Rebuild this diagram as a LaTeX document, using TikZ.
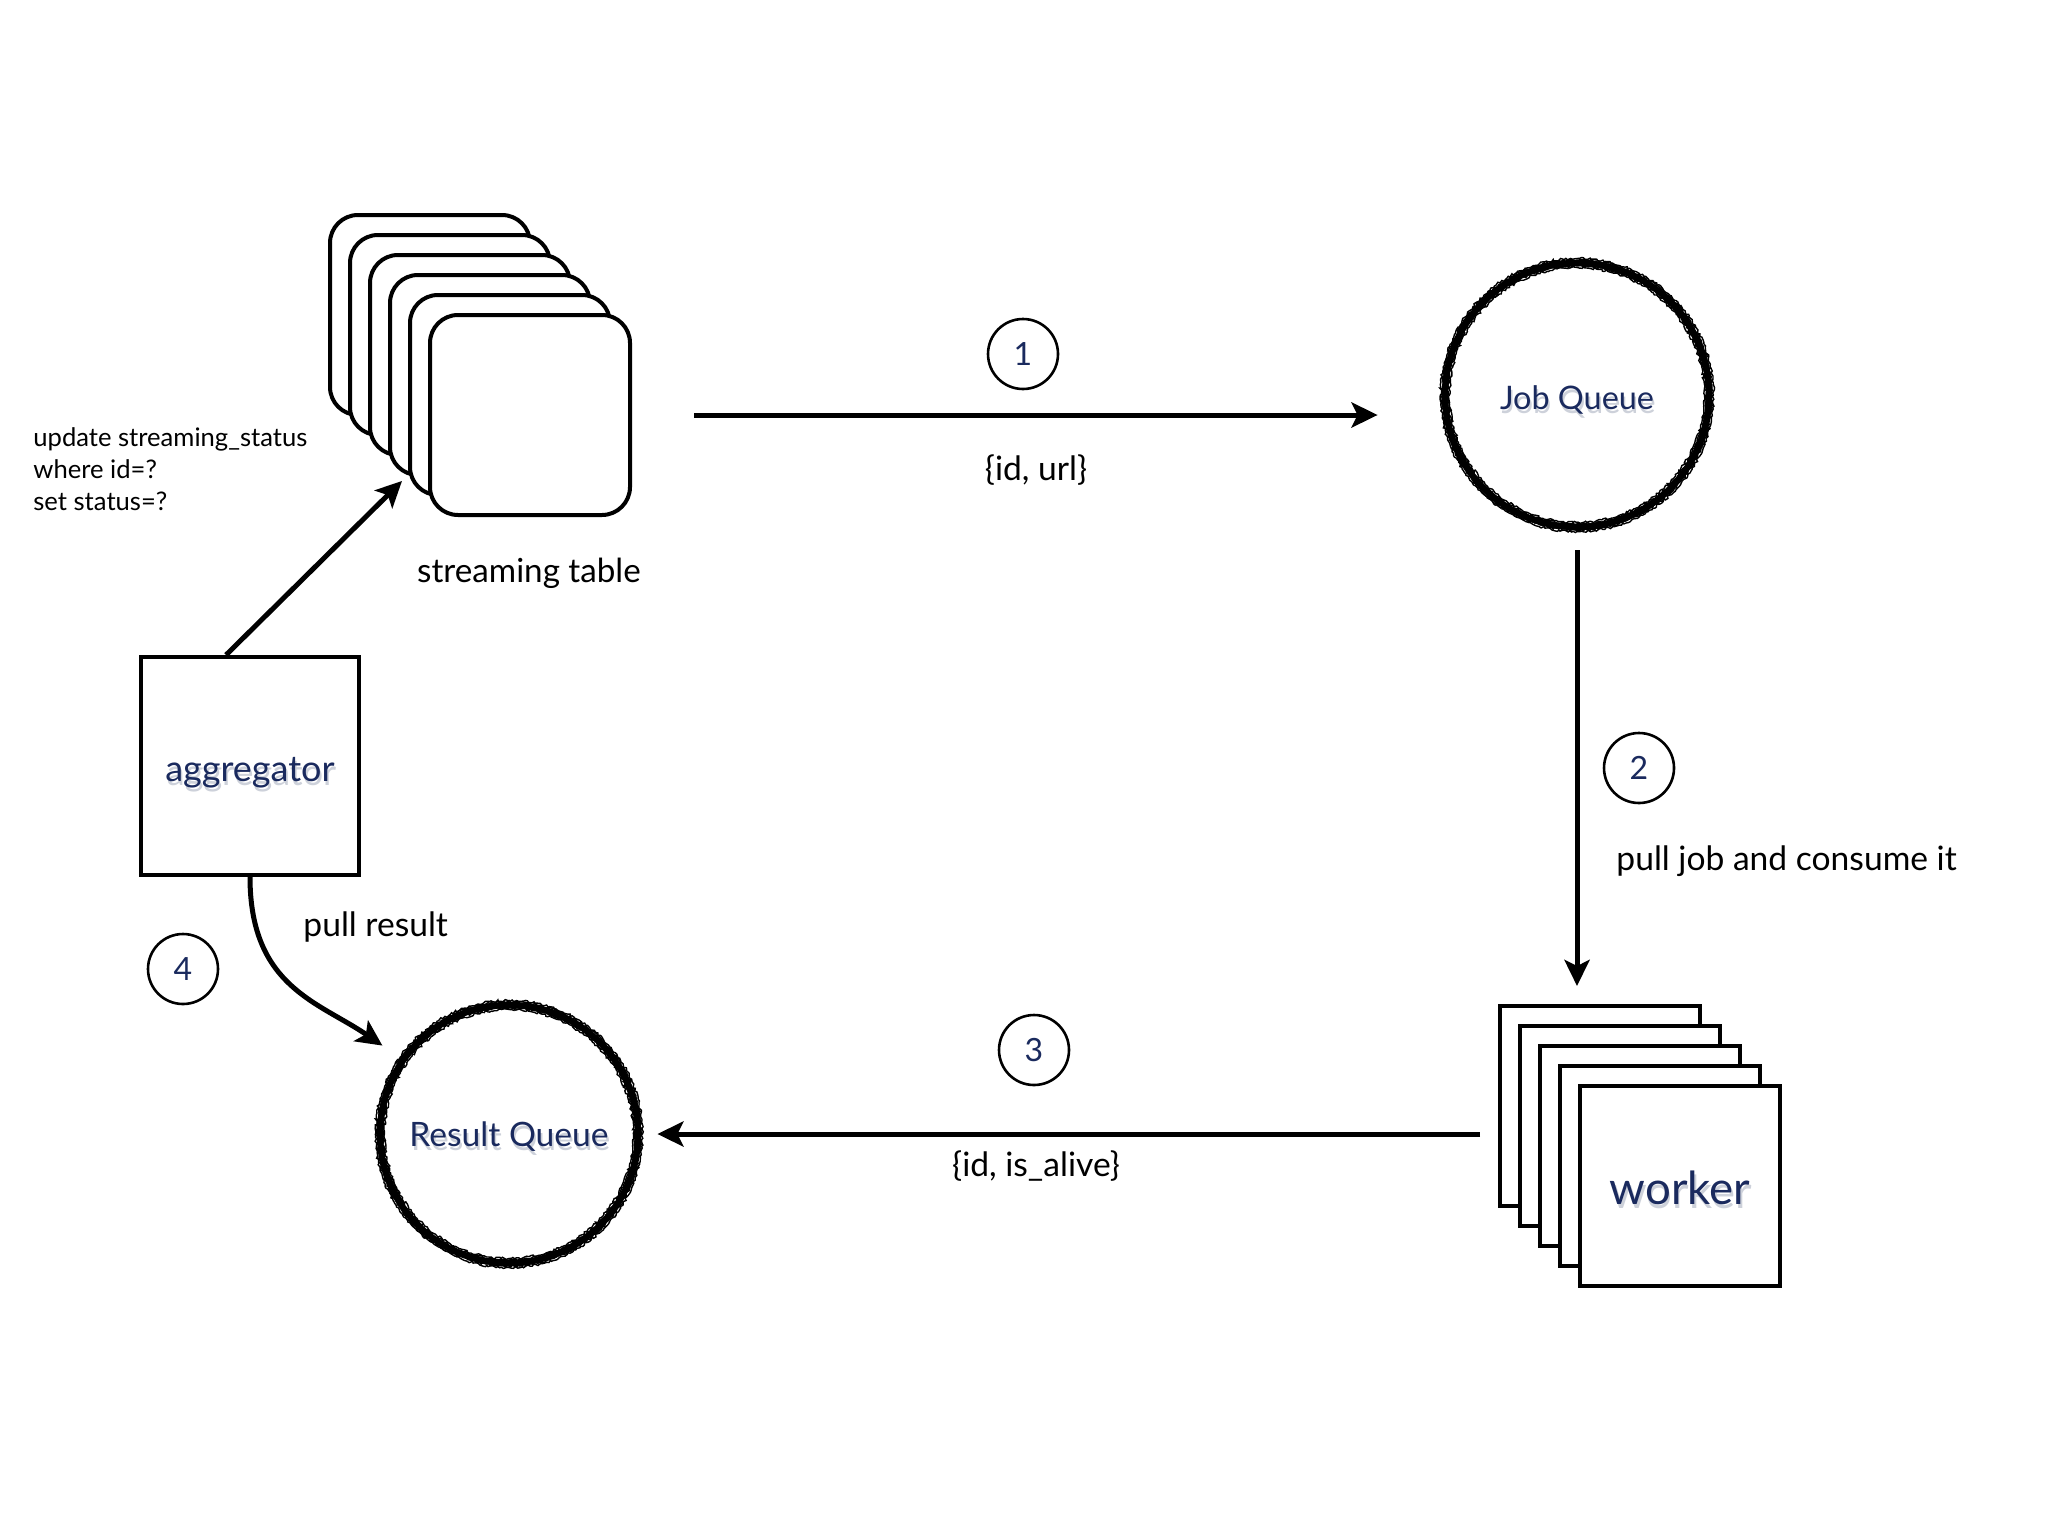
\documentclass[tikz,border=0pt]{standalone}
\usepackage{fontspec}
\setmainfont{Lato}
\usetikzlibrary{arrows.meta,decorations.pathmorphing,calc}
\definecolor{navy}{HTML}{1A2A5E}
\definecolor{shadowgray}{HTML}{CDD1DA}
\tikzset{
  card/.style={draw=black, line width=2pt, fill=white, rounded corners=14pt, minimum width=100pt, minimum height=100pt, inner sep=0pt},
  wcard/.style={draw=black, line width=2pt, fill=white, minimum width=100pt, minimum height=100pt, inner sep=0pt},
  queue/.style={circle, minimum size=134pt, inner sep=0pt},
  numc/.style={circle, draw=black, line width=1.3pt, minimum size=35pt, inner sep=0pt, font=\fontsize{16}{18}\selectfont, text=navy},
  lbl/.style={font=\fontsize{16.8}{20}\selectfont, text=black, inner sep=0pt},
  ttl/.style={text=navy, inner sep=0pt},
  arr/.style={line width=2.5pt, -{Stealth[length=13pt,width=12.5pt,inset=3pt]}},
  core/.style={draw=black, line width=3.2pt},
  rough/.style={draw=black, line width=0.7pt, decorate, decoration={random steps, segment length=1pt, amplitude=0.6pt}},
}
% text with a soft drop shadow, set as one piece of text
\newcommand{\shadowed}[1]{\leavevmode\rlap{\hspace{0.8pt}\raisebox{-2pt}{\textcolor{shadowgray}{#1}}}#1}
\newcommand{\roughring}[2]{% center node, radius
  \draw[core] (#1.center) circle (#2);
  \foreach \s/\r in {1/-4.5,2/-3,3/-1.5,4/1.5,5/3,6/4.5}{
    \pgfmathsetseed{\s}
    \draw[rough] (#1.center) circle ({#2+\r});
  }
}
\begin{document}
\begin{tikzpicture}[x=0.5pt,y=-0.5pt]
\useasboundingbox[fill=white] (0,0) rectangle (2048,1536);

% streaming table stack
\foreach \i in {0,...,5}{
  \node[card] (st\i) at ({430+20*\i},{315+20*\i}) {};
}
\node[lbl, font=\fontsize{16.6}{20}\selectfont] (stl) at (529,573) {streaming table};

% worker stack
\foreach \i in {0,...,4}{
  \node[wcard] (w\i) at ({1600+20*\i},{1106+20*\i}) {};
}
\node[ttl, font=\fontsize{22.8}{24}\selectfont] (wl) at (1680,1190) {\shadowed{worker}};

% aggregator
\node[draw=black, line width=2pt, fill=white, minimum width=109pt, minimum height=109pt, inner sep=0pt] (agg) at (250,766) {};
\node[ttl, font=\fontsize{18}{20}\selectfont] (aggl) at (250,775) {\shadowed{aggregator}};

% job queue
\node[queue] (jq) at (1577,395) {};
\roughring{jq}{132}
\node[ttl, font=\fontsize{16.2}{18}\selectfont] (jql) at (1577,402) {\shadowed{Job Queue}};

% result queue
\node[queue] (rq) at (509,1134) {};
\roughring{rq}{129}
\node[ttl, font=\fontsize{16.8}{18}\selectfont] (rql) at (509,1139) {\shadowed{Result Queue}};

% number circles
\node[numc] (n1) at (1023,354) {1};
\node[numc] (n2) at (1639,768) {2};
\node[numc] (n3) at (1034,1050) {3};
\node[numc] (n4) at (183,969) {4};

% labels
\node[lbl] (l1) at (1036,470) {\{id, url\}};
\node[lbl, anchor=west] (l2) at (1616,861) {pull job and consume it};
\node[lbl] (l3) at (1036,1166) {\{id, is\_alive\}};
\node[lbl, anchor=west] (l4) at (303,927) {pull result};
\node[lbl, anchor=north west, align=left, font=\fontsize{12.8}{16}\selectfont] (upd) at (33,427) {update streaming\_status\\where id=?\\set status=?};

% connectors
\draw[arr, shorten <=31pt, shorten >=32.5pt] (st5.east) -- (st5.east -| jq.west);
\draw[arr, shorten <=10.5pt, shorten >=9pt] (jq.south) -- (jq.south |- w0.north);
\draw[arr, shorten <=9pt, shorten >=7pt] (rq.east -| w0.west) -- (rq.east);
\draw[arr, shorten >=10pt] (agg.south) .. controls +(0,110) and +(-80,-55) .. (rq.145);
\draw[arr] ([xshift=-12pt]agg.north) -- ([xshift=-3pt,yshift=8pt]st4.south west);
\end{tikzpicture}
\end{document}
